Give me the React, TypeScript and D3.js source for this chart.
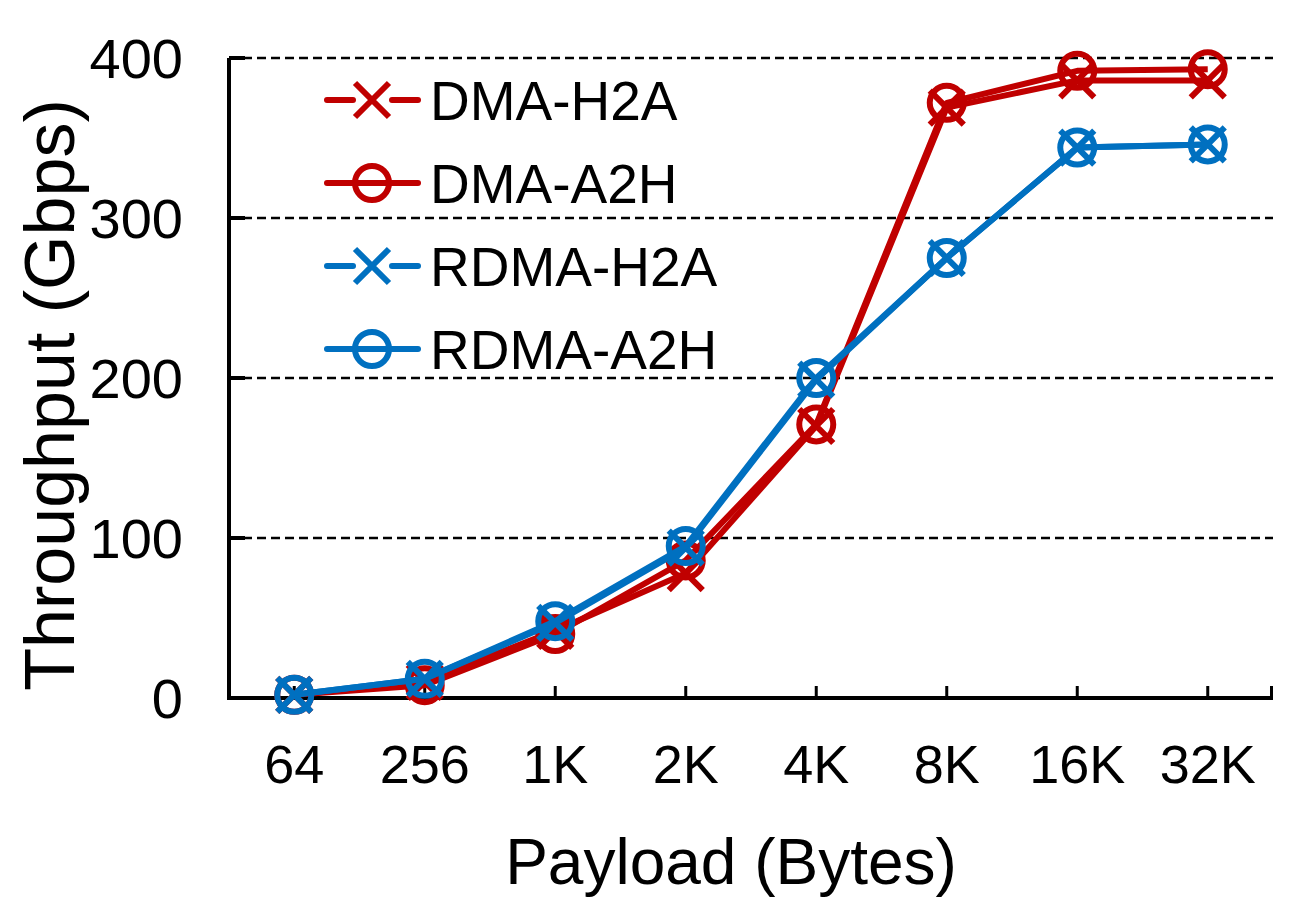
import React from "react";
import * as d3 from "d3";

const categories = ["64", "256", "1K", "2K", "4K", "8K", "16K", "32K"];
const dmaH2A = [2, 10, 42, 78, 170, 369, 386, 386];
const dmaA2H = [2, 8, 40, 86, 171, 372, 392, 393];
const rdmaH2A = [2, 12, 47, 94, 199, 275, 344, 346];
const rdmaA2H = [2, 12, 48, 95, 200, 275, 344, 346];
const yTicks = [0, 100, 200, 300, 400];
const seriesNames = ["DMA-H2A", "DMA-A2H", "RDMA-H2A", "RDMA-A2H"];

const RED = "#C00000";
const BLUE = "#0070C0";
const FONT = "'Liberation Sans', Arial, sans-serif";

export default function App() {
  const W = 1300, H = 909;
  const x0 = 229, x1 = 1273, y0 = 698, y1 = 58;
  const x = d3.scaleLinear().domain([-0.5, categories.length - 0.5]).range([x0, x1]);
  const y = d3.scaleLinear().domain([0, 400]).range([y0, y1]);
  const line = d3.line<number>().x((_, i) => x(i)).y((d) => y(d));

  const series = [
    { name: seriesNames[0], data: dmaH2A, color: RED, marker: "x" },
    { name: seriesNames[1], data: dmaA2H, color: RED, marker: "o" },
    { name: seriesNames[2], data: rdmaH2A, color: BLUE, marker: "x" },
    { name: seriesNames[3], data: rdmaA2H, color: BLUE, marker: "o" },
  ];

  const sw = 6;
  const r = 17;
  const xs = 17;

  const marker = (m: string, cx: number, cy: number, color: string, key: string) =>
    m === "o" ? (
      <circle key={key} cx={cx} cy={cy} r={r} fill="none" stroke={color} strokeWidth={sw} />
    ) : (
      <path
        key={key}
        d={`M${cx - xs},${cy - xs}L${cx + xs},${cy + xs}M${cx - xs},${cy + xs}L${cx + xs},${cy - xs}`}
        stroke={color}
        strokeWidth={sw}
        fill="none"
      />
    );

  const legendX = 327, legendY0 = 100, legendDy = 83;

  return (
    <svg width={W} height={H} style={{ position: "absolute", left: 0, top: 0, background: "#fff" }} fontFamily={FONT}>
      {/* gridlines */}
      {yTicks.filter((t) => t > 0).map((t) => (
        <line key={"g" + t} x1={x0} x2={x1} y1={y(t)} y2={y(t)} stroke="#000" strokeWidth={2.5} strokeDasharray="9,5" />
      ))}
      {/* axes */}
      <line x1={x0} x2={x0} y1={y1} y2={y0 + 2} stroke="#000" strokeWidth={4} />
      <line x1={x0 - 2} x2={x1} y1={y0} y2={y0} stroke="#000" strokeWidth={4} />
      {yTicks.map((t) => (
        <line key={"yt" + t} x1={x0} x2={x0 + 16} y1={y(t)} y2={y(t)} stroke="#000" strokeWidth={4} />
      ))}
      {categories.map((c, i) => (
        <line key={"xt" + c} x1={x(i)} x2={x(i)} y1={y0} y2={y0 - 12} stroke="#000" strokeWidth={3} />
      ))}
      <line x1={x1 - 1.5} x2={x1 - 1.5} y1={y0} y2={y0 - 12} stroke="#000" strokeWidth={3} />
      {/* tick labels */}
      {yTicks.map((t) => (
        <text key={"yl" + t} x={183} y={y(t)} dy="0.36em" textAnchor="end" fontSize={56}>
          {t}
        </text>
      ))}
      {categories.map((c, i) => (
        <text key={"xl" + c} x={x(i)} y={783} textAnchor="middle" fontSize={54}>
          {c}
        </text>
      ))}
      {/* axis titles */}
      <text x={731} y={884} textAnchor="middle" fontSize={64}>
        Payload (Bytes)
      </text>
      <text transform="translate(74,395) rotate(-90)" textAnchor="middle" fontSize={70}>
        Throughput (Gbps)
      </text>
      {/* series */}
      {series.map((s) => (
        <g key={s.name}>
          <path d={line(s.data) || ""} fill="none" stroke={s.color} strokeWidth={sw} strokeLinejoin="round" />
          {s.data.map((v, i) => marker(s.marker, x(i), y(v), s.color, s.name + i))}
        </g>
      ))}
      {/* legend */}
      {series.map((s, k) => {
        const ly = legendY0 + k * legendDy;
        const cx = legendX + 45;
        return (
          <g key={"leg" + s.name}>
            {s.marker === "x" ? (
              <>
                <line x1={legendX} x2={legendX + 26} y1={ly} y2={ly} stroke={s.color} strokeWidth={sw} strokeLinecap="round" />
                <line x1={legendX + 65} x2={legendX + 91} y1={ly} y2={ly} stroke={s.color} strokeWidth={sw} strokeLinecap="round" />
              </>
            ) : (
              <line x1={legendX} x2={legendX + 91} y1={ly} y2={ly} stroke={s.color} strokeWidth={sw} strokeLinecap="round" />
            )}
            {marker(s.marker, cx, ly, s.color, "lm" + k)}
            <text x={430} y={ly} dy="0.36em" fontSize={55}>
              {s.name}
            </text>
          </g>
        );
      })}
    </svg>
  );
}
